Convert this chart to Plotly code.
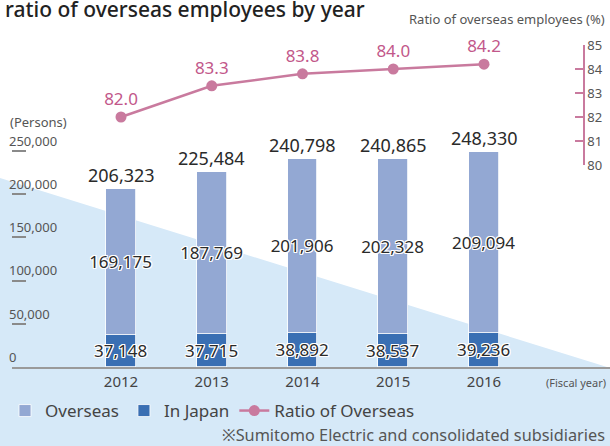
import plotly.graph_objects as go

# ---- data ----
years = [2012, 2013, 2014, 2015, 2016]
in_japan = [37148, 37715, 38892, 38537, 39236]
overseas = [169175, 187769, 201906, 202328, 209094]
totals = [206323, 225484, 240798, 240865, 248330]
ratio = [82.0, 83.3, 83.8, 84.0, 84.2]

left_ticks = [0, 50000, 100000, 150000, 200000, 250000]
right_ticks = [80, 81, 82, 83, 84, 85]

# ---- styles ----
W, H = 610, 446
FONT = "Noto Sans"
C_OVER = "#93a8d3"
C_JAPAN = "#3a6fb3"
C_LINE = "#c97a9e"
C_LINE_TXT = "#c2578a"
C_BG = "#d6e9f8"
C_TXT = "#2a2a2a"
C_AX = "#555555"
HALO = "1px 1px 0 #fff, -1px -1px 0 #fff, 1px -1px 0 #fff, -1px 1px 0 #fff, 0 1px 0 #fff, 0 -1px 0 #fff, 1px 0 0 #fff, -1px 0 0 #fff"

def px_x(p):
    return p / W

def px_y(p):
    return (H - p) / H

fig = go.Figure()

fig.add_trace(go.Bar(
    x=years, y=in_japan, name="In Japan", marker=dict(color=C_JAPAN, line=dict(color="white", width=0.8)),
    text=[f"{v:,}" for v in in_japan], textposition="inside", insidetextanchor="middle", textangle=0,
    textfont=dict(size=17, color=C_TXT, family=FONT, shadow=HALO),
    width=0.33, legendrank=2, cliponaxis=False, constraintext="none",
))
fig.add_trace(go.Bar(
    x=years, y=overseas, name="Overseas", marker=dict(color=C_OVER, line=dict(color="white", width=0.8)),
    text=[f"{v:,}" for v in overseas], textposition="inside", insidetextanchor="middle", textangle=0,
    textfont=dict(size=17, color=C_TXT, family=FONT, shadow=HALO),
    width=0.33, legendrank=1, cliponaxis=False, constraintext="none",
))
fig.add_trace(go.Scatter(
    x=years, y=ratio, name="Ratio of Overseas", yaxis="y2", mode="lines+markers+text",
    line=dict(color=C_LINE, width=2.5), marker=dict(color=C_LINE, size=11),
    text=[f"{v:.1f}" for v in ratio], textposition="top center",
    textfont=dict(size=17, color=C_LINE_TXT, family=FONT), legendrank=3, cliponaxis=False,
))

# total labels above bars
for yr, t in zip(years, totals):
    fig.add_annotation(x=yr, y=t, xref="x", yref="y", text=f"{t:,}", showarrow=False,
                       yanchor="middle", yshift=14, font=dict(size=18, color=C_TXT, family=FONT))

# background triangle
fig.add_shape(type="path", xref="paper", yref="paper", layer="below", line=dict(width=0), fillcolor=C_BG,
              path=f"M 0 {px_y(178)} L {px_x(607)} {px_y(367)} L 1 {px_y(367)} L 1 0 L 0 0 Z")

# texts
fig.add_annotation(xref="paper", yref="paper", x=px_x(607), y=px_y(19), xanchor="right", yanchor="middle",
                   text="Ratio of overseas employees (%)", showarrow=False,
                   font=dict(size=13, color=C_AX, family=FONT))
fig.add_annotation(xref="paper", yref="paper", x=px_x(8), y=px_y(122), xanchor="left", yanchor="middle",
                   text="(Persons)", showarrow=False, font=dict(size=13, color=C_AX, family=FONT))
fig.add_annotation(xref="paper", yref="paper", x=px_x(608), y=px_y(382), xanchor="right", yanchor="middle",
                   text="(Fiscal year)", showarrow=False, font=dict(size=11, color=C_AX, family=FONT))
fig.add_annotation(xref="paper", yref="paper", x=px_x(607), y=px_y(435), xanchor="right", yanchor="middle",
                   text="※Sumitomo Electric and consolidated subsidiaries", showarrow=False,
                   font=dict(size=16.3, color=C_AX, family=FONT))

x_left = 2012 - 109 / 90.75
x_right = 2012 + (610 - 121) / 90.75
ymax = 250000 * (367 - 108) / 216.0

fig.update_layout(
    width=W, height=H, margin=dict(l=0, r=0, t=0, b=0, autoexpand=False),
    paper_bgcolor="white", plot_bgcolor="rgba(0,0,0,0)",
    barmode="stack", bargap=0,
    font=dict(family=FONT, color=C_AX),
    title=dict(text="ratio of overseas employees by year", xref="container", yref="container",
               x=px_x(5), xanchor="left", y=px_y(10), yanchor="middle", automargin=False,
               font=dict(size=21, color="#222", family=FONT, weight=500)),
    showlegend=True,
    legend=dict(orientation="h", x=px_x(5), y=px_y(411), xanchor="left", yanchor="middle",
                font=dict(size=17, color="#444", family=FONT), bgcolor="rgba(0,0,0,0)",
                traceorder="normal", itemwidth=30),
    xaxis=dict(domain=[px_x(12), 1], range=[x_left, x_right], tickvals=years, ticktext=[str(y) for y in years],
               showgrid=False, zeroline=False, showline=True, linecolor="#9a9a9a", linewidth=2,
               ticks="", tickfont=dict(size=15, color="#444", family=FONT)),
    yaxis=dict(domain=[px_y(367), px_y(108)], range=[0, ymax], tickvals=left_ticks,
               ticktext=[f"{v:,}" for v in left_ticks], ticklabelposition="inside top",
               ticklabelstandoff=-6,
               ticks="inside", ticklen=14, tickwidth=1.5, tickcolor="#8a8a8a",
               showgrid=False, zeroline=False, showline=False,
               tickfont=dict(size=13, color=C_AX, family=FONT)),
    yaxis2=dict(domain=[px_y(165), px_y(45)], range=[80, 85], tickvals=right_ticks, anchor="free",
                position=px_x(584), side="right", showline=True, linecolor=C_LINE, linewidth=1.5,
                ticks="inside", ticklen=8, tickcolor=C_LINE, tickwidth=1.5, showgrid=False, zeroline=False,
                tickfont=dict(size=13, color=C_AX, family=FONT)),
)

fig.write_html("out.html", config={"displayModeBar": False},
               post_script="document.body.style.margin='0px';document.body.style.overflow='hidden';")
